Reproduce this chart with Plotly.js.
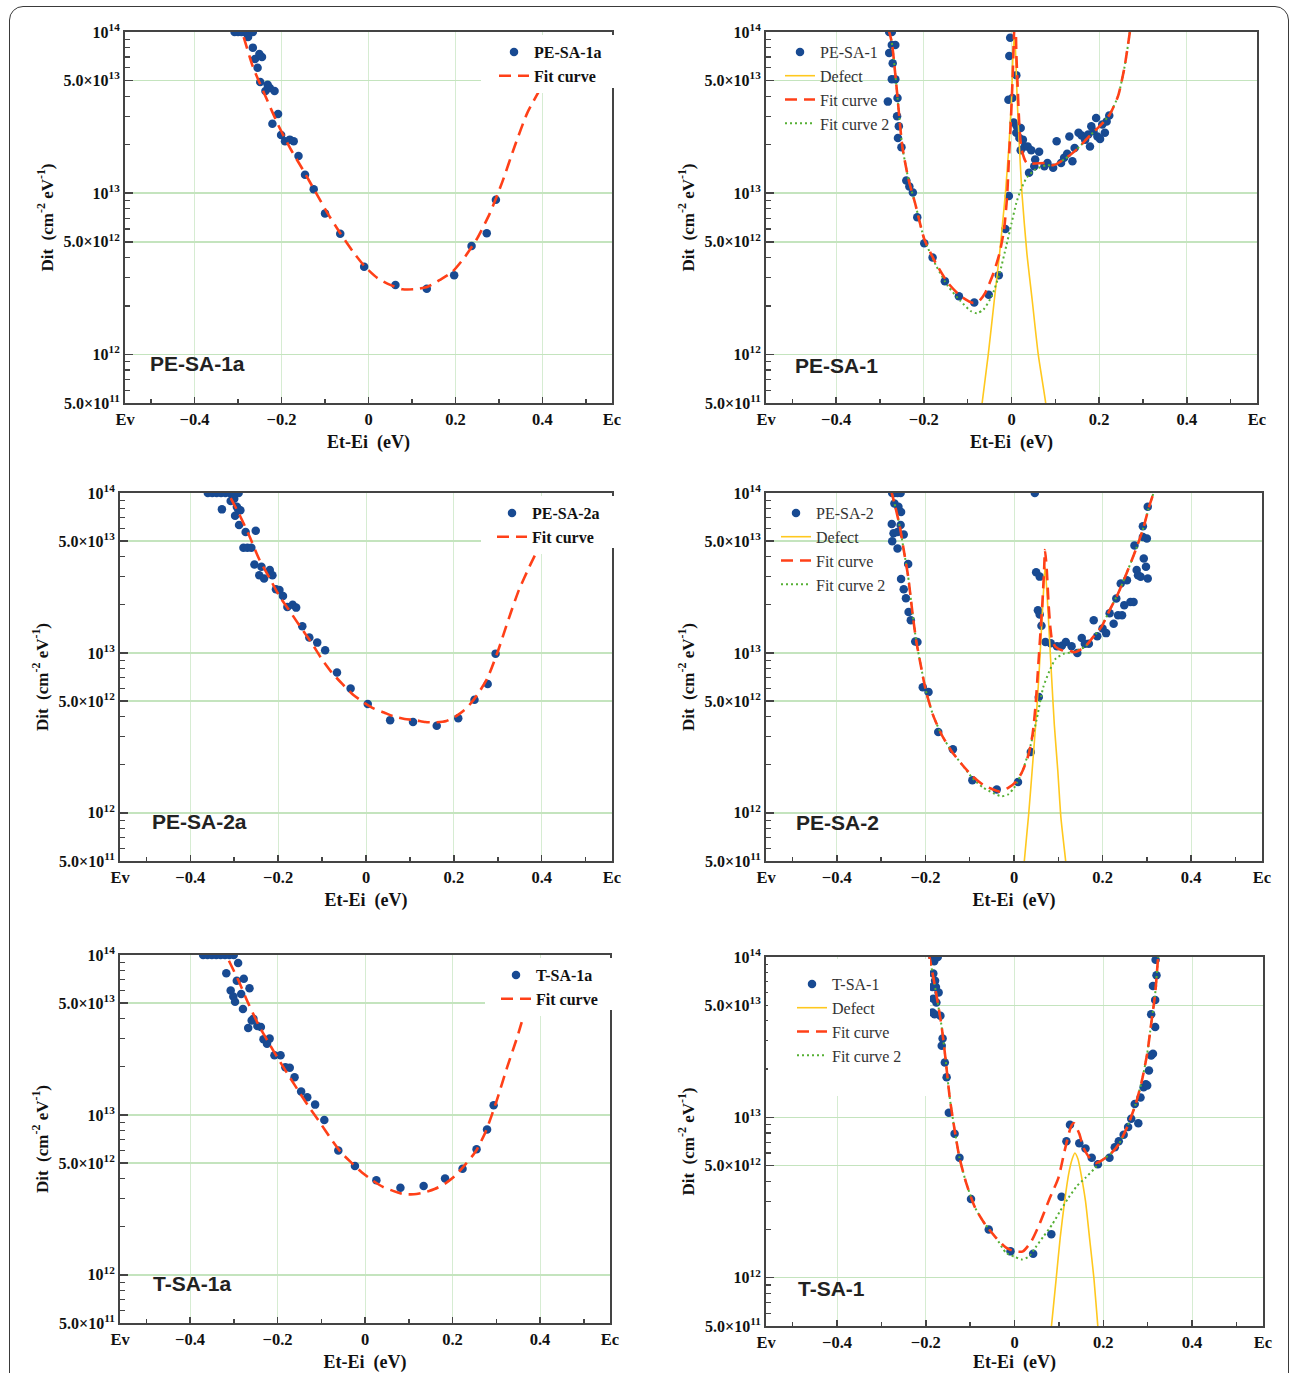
<!DOCTYPE html>
<html><head><meta charset="utf-8">
<script src="https://cdn.plot.ly/plotly-3.0.1.min.js"></script>
<style>
html,body{margin:0;padding:0;background:#fff;}
#wrap{position:relative;width:1292px;height:1373px;overflow:hidden;}
#chart{position:absolute;left:0;top:0;width:1292px;height:1373px;}
#frame{position:absolute;left:9px;top:6px;width:1280px;height:1420px;border:1.5px solid #3a3a3a;border-radius:14px;pointer-events:none;box-sizing:border-box;}
</style></head>
<body><div id="wrap"><div id="chart"></div><div id="frame"></div></div>
<script>
// ---------- tick definitions ----------
const X_TICKS = [-0.56, -0.4, -0.2, 0, 0.2, 0.4, 0.56];
const X_TEXT  = ['Ev', '\u22120.4', '\u22120.2', '0', '0.2', '0.4', 'Ec'];
const X_MINOR = [-0.5, -0.3, -0.1, 0.1, 0.3, 0.5];
const Y_TICKS = [5e11, 1e12, 5e12, 1e13, 5e13, 1e14];
const Y_TEXT  = ['5.0\u00d710<sup>11</sup>', '10<sup>12</sup>', '5.0\u00d710<sup>12</sup>', '10<sup>13</sup>', '5.0\u00d710<sup>13</sup>', '10<sup>14</sup>'];
const Y_MINOR = [6e11,7e11,8e11,9e11,2e12,3e12,4e12,6e12,7e12,8e12,9e12,2e13,3e13,4e13,6e13,7e13,8e13,9e13];

// ---------- PE-SA-1a ----------
const p1_e = [-0.308,-0.300,-0.292,-0.285,-0.279,-0.272,-0.266,-0.277,-0.266,-0.261,-0.251,-0.245,-0.255,-0.249,-0.232,-0.237,-0.227,-0.216,-0.208,-0.221,-0.201,-0.192,-0.181,-0.172,-0.161,-0.146,-0.126,-0.100,-0.065,-0.010,0.062,0.134,0.197,0.237,0.272,0.293];
const p1_d = [1e14,1e14,1e14,1e14,1e14,1e14,1e14,9.3e13,8.0e13,6.8e13,7.3e13,7.0e13,6.0e13,4.9e13,4.7e13,4.3e13,4.5e13,4.3e13,3.1e13,2.7e13,2.3e13,2.1e13,2.15e13,2.1e13,1.7e13,1.3e13,1.06e13,7.5e12,5.6e12,3.5e12,2.7e12,2.56e12,3.1e12,4.7e12,5.65e12,9.1e12];
const p1_fit_e = [-0.287,-0.266,-0.237,-0.208,-0.180,-0.151,-0.122,-0.094,-0.065,-0.036,-0.008,0.021,0.050,0.078,0.107,0.136,0.164,0.193,0.222,0.250,0.279,0.308,0.336,0.365,0.399];
const p1_fit_d = [9.3e13,6.1e13,4.0e13,2.66e13,1.9e13,1.4e13,1.02e13,7.5e12,5.65e12,4.35e12,3.5e12,2.97e12,2.7e12,2.54e12,2.54e12,2.63e12,2.9e12,3.26e12,4.04e12,5.25e12,7.5e12,1.18e13,1.95e13,3.14e13,4.64e13];

// ---------- PE-SA-1 ----------
const p2_e = [-0.279,-0.273,-0.279,-0.273,-0.265,-0.271,-0.273,-0.265,-0.282,-0.260,-0.261,-0.257,-0.259,-0.251,-0.240,-0.233,-0.225,-0.215,-0.199,-0.180,-0.152,-0.120,-0.085,-0.052,-0.029,-0.014,-0.006,-0.007,-0.005,-0.003,0.002,0.011,0.005,0.012,0.011,0.021,0.018,0.026,0.030,0.021,0.037,0.045,0.054,0.063,0.040,0.052,0.075,0.082,0.095,0.103,0.113,0.120,0.127,0.132,0.139,0.144,0.153,0.160,0.168,0.175,0.182,0.179,0.187,0.193,0.196,0.202,0.207,0.213,0.217,0.223];
const p2_d = [1e14,1e14,7.4e13,8.3e13,8.3e13,6.4e13,5.1e13,5.1e13,3.7e13,3.9e13,3.0e13,2.6e13,2.2e13,1.93e13,1.2e13,1.1e13,1.01e13,7.1e12,4.9e12,4.0e12,2.85e12,2.3e12,2.1e12,2.35e12,3.1e12,6.0e12,9.6e12,3.8e13,7.1e13,9.2e13,3.9e13,5.4e13,2.75e13,2.6e13,2.37e13,2.54e13,2.2e13,2.15e13,1.95e13,1.85e13,1.95e13,1.85e13,1.62e13,1.81e13,1.34e13,1.47e13,1.47e13,1.54e13,1.44e13,2.1e13,1.54e13,1.66e13,1.76e13,2.25e13,1.58e13,1.91e13,2.37e13,2.28e13,2.15e13,2.31e13,2.6e13,1.95e13,2.42e13,2.93e13,2.25e13,2.17e13,2.67e13,2.37e13,2.79e13,3.03e13];
const p2_fit_e = [-0.281,-0.273,-0.263,-0.249,-0.235,-0.220,-0.199,-0.173,-0.145,-0.116,-0.088,-0.074,-0.060,-0.041,-0.027,-0.017,-0.010,-0.006,-0.001,0.003,0.006,0.009,0.011,0.014,0.018,0.023,0.035,0.078,0.095,0.120,0.149,0.177,0.205,0.224,0.243,0.258,0.270,0.274];
const p2_fit_d = [1.05e14,8.6e13,4.8e13,1.95e13,1.22e13,8.7e12,5.2e12,3.7e12,2.78e12,2.3e12,2.09e12,2.14e12,2.41e12,3.2e12,4.27e12,5.96e12,9.6e12,1.62e13,3.0e13,5.6e13,1e14,1.2e14,7.4e13,4.6e13,2.6e13,1.87e13,1.54e13,1.54e13,1.49e13,1.62e13,1.87e13,2.25e13,2.67e13,3.08e13,4.0e13,6.1e13,1e14,1.2e14];
const p2_fit2_e = [-0.281,-0.273,-0.263,-0.249,-0.235,-0.220,-0.199,-0.173,-0.145,-0.116,-0.093,-0.079,-0.064,-0.045,-0.027,-0.012,0.000,0.011,0.021,0.035,0.054,0.078,0.095,0.120,0.149,0.177,0.205,0.224,0.243,0.258,0.270,0.274];
const p2_fit2_d = [1.05e14,8.6e13,4.8e13,1.95e13,1.22e13,8.7e12,5.2e12,3.6e12,2.65e12,2.14e12,1.86e12,1.8e12,1.9e12,2.3e12,3.2e12,4.7e12,6.5e12,8.7e12,1.05e13,1.25e13,1.4e13,1.49e13,1.49e13,1.62e13,1.87e13,2.25e13,2.67e13,3.08e13,4.0e13,6.1e13,1e14,1.2e14];
const p2_def_e = [-0.073,-0.067,-0.053,-0.039,-0.027,-0.014,-0.006,0.000,0.004,0.007,0.009,0.013,0.018,0.024,0.035,0.047,0.061,0.078,0.084];
const p2_def_d = [3.5e11,5.0e11,1.0e12,2.2e12,4.27e12,9.9e12,1.95e13,3.8e13,7.8e13,9.4e13,7.8e13,3.8e13,1.95e13,9.9e12,4.27e12,2.2e12,1.0e12,5.0e11,3.5e11];

// ---------- PE-SA-2a ----------
const p3_e = [-0.36,-0.35,-0.34,-0.33,-0.32,-0.31,-0.30,-0.29,-0.328,-0.308,-0.300,-0.298,-0.294,-0.291,-0.286,-0.289,-0.274,-0.251,-0.279,-0.270,-0.261,-0.254,-0.238,-0.243,-0.232,-0.219,-0.213,-0.205,-0.197,-0.189,-0.179,-0.167,-0.159,-0.145,-0.129,-0.111,-0.093,-0.066,-0.035,0.004,0.055,0.107,0.161,0.210,0.247,0.277,0.295];
const p3_d = [1e14,1e14,1e14,1e14,1e14,1e14,1e14,1e14,7.9e13,8.9e13,9.2e13,7.2e13,8.2e13,7.9e13,7.8e13,6.3e13,5.7e13,5.8e13,4.55e13,4.55e13,4.55e13,3.57e13,3.46e13,3.06e13,2.92e13,3.3e13,3.06e13,2.5e13,2.47e13,2.27e13,1.94e13,2.0e13,1.92e13,1.47e13,1.25e13,1.16e13,1.04e13,7.55e12,6.0e12,4.8e12,3.8e12,3.7e12,3.5e12,3.9e12,5.1e12,6.4e12,9.9e12];
const p3_fit_e = [-0.308,-0.290,-0.267,-0.243,-0.219,-0.196,-0.172,-0.149,-0.125,-0.101,-0.078,-0.054,-0.030,-0.007,0.017,0.041,0.064,0.088,0.112,0.135,0.159,0.183,0.206,0.230,0.254,0.277,0.301,0.325,0.348,0.372,0.394];
const p3_fit_d = [9.3e13,7.5e13,5.5e13,3.85e13,2.92e13,2.24e13,1.8e13,1.45e13,1.17e13,9.2e12,7.55e12,6.4e12,5.5e12,4.94e12,4.5e12,4.24e12,4.0e12,3.86e12,3.8e12,3.7e12,3.68e12,3.75e12,4.04e12,4.55e12,5.5e12,7.0e12,1.04e13,1.64e13,2.47e13,3.46e13,4.6e13];

// ---------- PE-SA-2 ----------
const p4_e = [-0.275,-0.270,-0.263,-0.256,0.047,-0.270,-0.261,-0.255,-0.276,-0.256,-0.272,-0.263,-0.249,-0.275,-0.263,-0.239,-0.255,-0.249,-0.244,-0.238,-0.233,-0.223,-0.218,-0.206,-0.193,-0.171,-0.138,-0.094,-0.039,0.009,0.038,0.056,0.050,0.058,0.054,0.058,0.062,0.071,0.083,0.097,0.108,0.117,0.130,0.143,0.153,0.160,0.169,0.180,0.188,0.200,0.208,0.216,0.225,0.231,0.235,0.241,0.244,0.249,0.255,0.263,0.270,0.272,0.277,0.280,0.286,0.291,0.293,0.298,0.300,0.302,0.291,0.302];
const p4_d = [1e14,1e14,1e14,1e14,1e14,8.6e13,8.2e13,7.6e13,6.4e13,6.3e13,5.6e13,5.7e13,5.5e13,5.0e13,4.5e13,3.6e13,2.9e13,2.5e13,2.2e13,1.8e13,1.6e13,1.18e13,1.17e13,6.1e12,5.7e12,3.2e12,2.5e12,1.6e12,1.4e12,1.56e12,2.4e12,5.3e12,3.2e13,3.0e13,1.85e13,1.74e13,1.48e13,1.17e13,1.15e13,1.1e13,1.11e13,1.17e13,1.1e13,1.0e13,1.24e13,1.14e13,1.14e13,1.6e13,1.27e13,1.42e13,1.33e13,1.77e13,1.52e13,2.19e13,1.72e13,2.72e13,1.72e13,1.99e13,2.85e13,2.08e13,2.08e13,4.7e13,3.3e13,3.06e13,2.99e13,6.2e13,3.9e13,3.46e13,5.2e13,2.92e13,5.3e13,8.2e13];
const p4_fit_e = [-0.278,-0.268,-0.258,-0.249,-0.239,-0.230,-0.221,-0.211,-0.199,-0.183,-0.164,-0.141,-0.117,-0.094,-0.070,-0.047,-0.033,-0.014,0.005,0.019,0.033,0.042,0.049,0.054,0.059,0.064,0.068,0.070,0.074,0.078,0.082,0.086,0.094,0.108,0.122,0.136,0.160,0.178,0.197,0.216,0.235,0.254,0.272,0.291,0.305,0.315,0.319];
const p4_fit_d = [1.05e14,8.2e13,6.2e13,4.4e13,3.0e13,1.85e13,1.2e13,8.5e12,5.8e12,4.1e12,3.1e12,2.43e12,2.0e12,1.7e12,1.5e12,1.4e12,1.36e12,1.43e12,1.57e12,1.82e12,2.32e12,3.1e12,4.8e12,7.7e12,1.25e13,2.03e13,3.3e13,4.4e13,3.3e13,2.03e13,1.45e13,1.2e13,1.09e13,1.04e13,1.04e13,1.01e13,1.09e13,1.25e13,1.45e13,1.85e13,2.35e13,3.14e13,4.2e13,5.9e13,8.2e13,1e14,1.1e14];
const p4_fit2_e = [-0.278,-0.268,-0.258,-0.249,-0.239,-0.230,-0.221,-0.211,-0.199,-0.183,-0.164,-0.141,-0.117,-0.094,-0.070,-0.047,-0.028,-0.014,0.000,0.019,0.038,0.052,0.066,0.080,0.094,0.113,0.131,0.150,0.160,0.178,0.197,0.216,0.235,0.254,0.272,0.291,0.305,0.315,0.319];
const p4_fit2_d = [1.05e14,8.2e13,6.2e13,4.4e13,3.0e13,1.85e13,1.2e13,8.5e12,5.8e12,4.1e12,3.1e12,2.43e12,2.0e12,1.65e12,1.44e12,1.33e12,1.27e12,1.3e12,1.43e12,1.82e12,2.68e12,3.94e12,6.1e12,7.7e12,9.2e12,9.9e12,1.01e13,1.06e13,1.09e13,1.25e13,1.45e13,1.85e13,2.35e13,3.14e13,4.2e13,5.9e13,8.2e13,1e14,1.1e14];
const p4_def_e = [0.021,0.023,0.033,0.042,0.050,0.056,0.061,0.066,0.070,0.075,0.080,0.085,0.091,0.099,0.106,0.117,0.120];
const p4_def_d = [4.0e11,4.9e11,9.7e11,2.0e12,3.9e12,7.0e12,1.25e13,2.24e13,3.46e13,2.24e13,1.25e13,7.0e12,3.57e12,1.82e12,9.3e11,4.9e11,4.0e11];

// ---------- T-SA-1a ----------
const p5_e = [-0.37,-0.36,-0.35,-0.34,-0.33,-0.32,-0.31,-0.30,-0.290,-0.317,-0.277,-0.293,-0.264,-0.307,-0.283,-0.301,-0.297,-0.279,-0.255,-0.259,-0.246,-0.238,-0.267,-0.232,-0.224,-0.218,-0.207,-0.193,-0.182,-0.172,-0.161,-0.146,-0.132,-0.114,-0.093,-0.061,-0.023,0.026,0.081,0.134,0.183,0.223,0.255,0.279,0.294];
const p5_d = [1e14,1e14,1e14,1e14,1e14,1e14,1e14,1e14,8.9e13,7.7e13,7.1e13,6.9e13,6.2e13,6.0e13,5.7e13,5.5e13,5.1e13,4.6e13,4.0e13,3.9e13,3.6e13,3.55e13,3.5e13,2.97e13,2.79e13,3.0e13,2.36e13,2.36e13,1.99e13,1.97e13,1.72e13,1.4e13,1.29e13,1.16e13,9.3e12,6.0e12,4.8e12,3.9e12,3.5e12,3.6e12,4.0e12,4.6e12,6.1e12,8.1e12,1.15e13];
const p5_fit_e = [-0.311,-0.290,-0.267,-0.243,-0.219,-0.196,-0.172,-0.149,-0.125,-0.101,-0.078,-0.054,-0.030,-0.007,0.017,0.041,0.064,0.088,0.112,0.135,0.159,0.183,0.206,0.230,0.254,0.277,0.301,0.325,0.348,0.367];
const p5_fit_d = [9.2e13,7.0e13,5.0e13,3.64e13,2.79e13,2.19e13,1.72e13,1.37e13,1.09e13,8.8e12,7.1e12,5.8e12,5.0e12,4.37e12,3.9e12,3.55e12,3.35e12,3.2e12,3.19e12,3.27e12,3.44e12,3.72e12,4.16e12,4.92e12,5.97e12,8.0e12,1.23e13,1.99e13,3.07e13,4.6e13];

// ---------- T-SA-1 ----------
const p6_e = [-0.185,-0.181,-0.177,-0.173,-0.183,-0.179,-0.185,-0.177,-0.171,-0.183,-0.176,-0.185,-0.180,-0.167,-0.162,-0.164,-0.157,-0.153,-0.148,-0.135,-0.124,-0.098,-0.058,-0.009,0.042,0.083,0.106,0.117,0.125,0.146,0.160,0.174,0.188,0.214,0.226,0.235,0.246,0.256,0.263,0.271,0.279,0.284,0.291,0.296,0.299,0.303,0.308,0.312,0.308,0.317,0.317,0.312,0.320,0.318];
const p6_d = [1e14,9.4e13,1e14,1e14,7.9e13,7.1e13,6.5e13,6.5e13,6.0e13,5.5e13,5.2e13,4.5e13,4.4e13,4.3e13,3.1e13,2.8e13,2.2e13,1.78e13,1.07e13,7.9e12,5.6e12,3.1e12,2.0e12,1.46e12,1.41e12,1.87e12,3.2e12,7.1e12,9.0e12,6.9e12,6.4e12,5.6e12,5.1e12,5.6e12,6.5e12,7.1e12,7.8e12,8.7e12,9.8e12,1.21e13,9.2e12,1.33e13,1.54e13,1.61e13,1.58e13,1.96e13,2.43e13,2.49e13,4.4e13,3.66e13,5.4e13,6.6e13,7.7e13,9.6e13];
const p6_fit_e = [-0.193,-0.183,-0.174,-0.164,-0.155,-0.146,-0.136,-0.124,-0.108,-0.089,-0.066,-0.042,-0.019,0.000,0.019,0.038,0.056,0.080,0.099,0.113,0.127,0.134,0.146,0.155,0.169,0.183,0.197,0.216,0.235,0.254,0.273,0.287,0.299,0.308,0.317,0.324,0.327];
const p6_fit_d = [1.05e14,7.5e13,5.4e13,3.65e13,2.26e13,1.33e13,8.7e12,5.6e12,3.83e12,2.74e12,2.15e12,1.78e12,1.54e12,1.46e12,1.46e12,1.69e12,2.15e12,3.16e12,4.2e12,6.2e12,8.7e12,9.2e12,7.9e12,6.5e12,5.6e12,5.2e12,5.4e12,5.9e12,6.8e12,8.7e12,1.21e13,1.69e13,2.49e13,3.83e13,5.9e13,1e14,1.1e14];
const p6_fit2_e = [-0.193,-0.183,-0.174,-0.164,-0.155,-0.146,-0.136,-0.124,-0.108,-0.089,-0.066,-0.042,-0.019,0.000,0.017,0.033,0.047,0.066,0.085,0.103,0.122,0.141,0.160,0.179,0.197,0.216,0.235,0.254,0.273,0.287,0.299,0.308,0.317,0.324,0.327];
const p6_fit2_d = [1.05e14,7.5e13,5.4e13,3.65e13,2.26e13,1.33e13,8.7e12,5.6e12,3.83e12,2.74e12,2.15e12,1.78e12,1.43e12,1.35e12,1.3e12,1.36e12,1.54e12,1.82e12,2.15e12,2.61e12,3.16e12,3.74e12,4.2e12,4.75e12,5.4e12,5.9e12,6.8e12,8.7e12,1.21e13,1.69e13,2.49e13,3.83e13,5.9e13,1e14,1.1e14];
const p6_def_e = [0.080,0.083,0.094,0.103,0.113,0.122,0.130,0.136,0.143,0.150,0.160,0.169,0.179,0.188,0.191];
const p6_def_d = [4.0e11,4.9e11,9.9e11,1.78e12,3.0e12,4.43e12,5.5e12,6.0e12,5.5e12,4.43e12,3.0e12,1.78e12,9.9e11,4.9e11,4.0e11];

// ---------- layout helpers ----------
const W = 1292, H = 1373;
const SERIF = 'Liberation Serif';
const SANS = 'Liberation Sans';
const DOT_COLOR = 'rgb(24,74,146)';
const FIT_COLOR = 'rgb(255,64,24)';
const FIT2_COLOR = 'rgb(86,176,52)';
const DEF_COLOR = 'rgb(255,200,30)';

const panels = [
  {l:125, r:612, t:32,  b:403, name:'PE-SA-1a', label:[148,364], leg:[494,35],  legBg:'#ffffff', full:false, cover:[481,35,618,88]},
  {l:766, r:1257,t:32,  b:403, name:'PE-SA-1',  label:[793,365], leg:[780,35],  legBg:'rgba(0,0,0,0)', full:true},
  {l:120, r:612, t:493, b:861, name:'PE-SA-2a', label:[150,821], leg:[492,496], legBg:'#ffffff', full:false, cover:[481,496,618,548]},
  {l:766, r:1262,t:493, b:861, name:'PE-SA-2',  label:[794,822], leg:[776,496], legBg:'rgba(0,0,0,0)', full:true},
  {l:120, r:610, t:955, b:1323,name:'T-SA-1a',  label:[151,1283],leg:[496,958], legBg:'#ffffff', full:false, cover:[485,958,616,1010]},
  {l:766, r:1263,t:957, b:1326,name:'T-SA-1',   label:[796,1288],leg:[792,967], legBg:'#ffffff', full:true, cover:[768,959,930,1096]}
];
const series = [
  {e:p1_e, d:p1_d, fe:p1_fit_e, fd:p1_fit_d},
  {e:p2_e, d:p2_d, fe:p2_fit_e, fd:p2_fit_d, f2e:p2_fit2_e, f2d:p2_fit2_d, de:p2_def_e, dd:p2_def_d},
  {e:p3_e, d:p3_d, fe:p3_fit_e, fd:p3_fit_d},
  {e:p4_e, d:p4_d, fe:p4_fit_e, fd:p4_fit_d, f2e:p4_fit2_e, f2d:p4_fit2_d, de:p4_def_e, dd:p4_def_d},
  {e:p5_e, d:p5_d, fe:p5_fit_e, fd:p5_fit_d},
  {e:p6_e, d:p6_d, fe:p6_fit_e, fd:p6_fit_d, f2e:p6_fit2_e, f2d:p6_fit2_d, de:p6_def_e, dd:p6_def_d}
];

const traces = [];
const layout = {
  width: W, height: H, margin:{l:0,r:0,t:0,b:0},
  paper_bgcolor:'#ffffff', plot_bgcolor:'#ffffff',
  showlegend:true, annotations:[], shapes:[]
};

panels.forEach((p, i) => {
  const k = i + 1;
  const sx = k === 1 ? '' : String(k);
  const xref = 'x' + sx, yref = 'y' + sx;
  const legName = k === 1 ? 'legend' : 'legend' + k;
  const s = series[i];
  traces.push({type:'scatter', mode:'markers', x:s.e, y:s.d, xaxis:xref, yaxis:yref,
    name:p.name, legend:legName, legendrank:1,
    marker:{color:DOT_COLOR, size:8.5}});
  if (s.de) traces.push({type:'scatter', mode:'lines', x:s.de, y:s.dd, xaxis:xref, yaxis:yref,
    name:'Defect', legend:legName, legendrank:2,
    line:{color:DEF_COLOR, width:1.6, shape:'spline', smoothing:0.6}});
  if (s.f2e) traces.push({type:'scatter', mode:'lines', x:s.f2e, y:s.f2d, xaxis:xref, yaxis:yref,
    name:'Fit curve 2', legend:legName, legendrank:4,
    line:{color:FIT2_COLOR, width:2, dash:'2px,3px', shape:'spline', smoothing:0.6}});
  traces.push({type:'scatter', mode:'lines', x:s.fe, y:s.fd, xaxis:xref, yaxis:yref,
    name:'Fit curve', legend:legName, legendrank:3,
    line:{color:FIT_COLOR, width:2.6, dash:'12px,7px', shape:'spline', smoothing:0.6}});

  layout['xaxis' + sx] = {
    domain:[p.l / W, p.r / W], anchor:yref, range:[-0.56, 0.56],
    tickmode:'array', tickvals:X_TICKS, ticktext:X_TEXT,
    ticks:'inside', ticklen:6, tickwidth:1.5, tickcolor:'#444',
    minor:{tickmode:'array', tickvals:X_MINOR, ticks:'inside', ticklen:4, tickwidth:1.5, tickcolor:'#444', showgrid:false},
    showline:true, linecolor:'#444', linewidth:2, mirror:true,
    showgrid:true, gridcolor:'rgb(214,236,210)', gridwidth:1, zeroline:false,
    tickfont:{family:SERIF, size:16.5, color:'#111', weight:'bold'},
    title:{text:'Et-Ei  (eV)', font:{family:SERIF, size:18, color:'#111', weight:'bold'}, standoff:8},
    fixedrange:true
  };
  layout['yaxis' + sx] = {
    domain:[1 - p.b / H, 1 - p.t / H], anchor:xref, type:'log',
    range:[Math.log10(5e11), 14],
    tickmode:'array', tickvals:Y_TICKS, ticktext:Y_TEXT,
    ticks:'inside', ticklen:8, tickwidth:1.5, tickcolor:'#444',
    minor:{tickmode:'array', tickvals:Y_MINOR, ticks:'inside', ticklen:5, tickwidth:1.2, tickcolor:'#444', showgrid:false},
    showline:true, linecolor:'#444', linewidth:2, mirror:true,
    showgrid:true, gridcolor:'rgb(196,228,190)', gridwidth:1.5, zeroline:false,
    tickfont:{family:SERIF, size:16, color:'#111', weight:'bold'},
    title:{text:'Dit  (cm<sup>-2</sup> eV<sup>-1</sup>)', font:{family:SERIF, size:17, color:'#111', weight:'bold'}, standoff:6},
    fixedrange:true
  };
  layout[legName] = {
    x:p.leg[0] / W, y:1 - p.leg[1] / H, xanchor:'left', yanchor:'top',
    bgcolor:p.legBg, borderwidth:0, tracegroupgap:0,
    font:{family:SERIF, size:16, color:p.full ? '#333' : '#111', weight:p.full ? 'normal' : 'bold'}
  };
  if (p.cover) layout.shapes.push({
    type:'rect', xref:'paper', yref:'paper', layer:'above',
    x0:p.cover[0] / W, x1:p.cover[2] / W, y0:1 - p.cover[3] / H, y1:1 - p.cover[1] / H,
    fillcolor:'#ffffff', line:{width:0}
  });
  layout.annotations.push({
    xref:'paper', yref:'paper', x:p.label[0] / W, y:1 - p.label[1] / H,
    xanchor:'left', yanchor:'middle', showarrow:false, text:p.name,
    font:{family:SANS, size:21, color:'#222', weight:'bold'}
  });
});

Plotly.newPlot('chart', traces, layout, {displayModeBar:false, staticPlot:true});
</script></body></html>
